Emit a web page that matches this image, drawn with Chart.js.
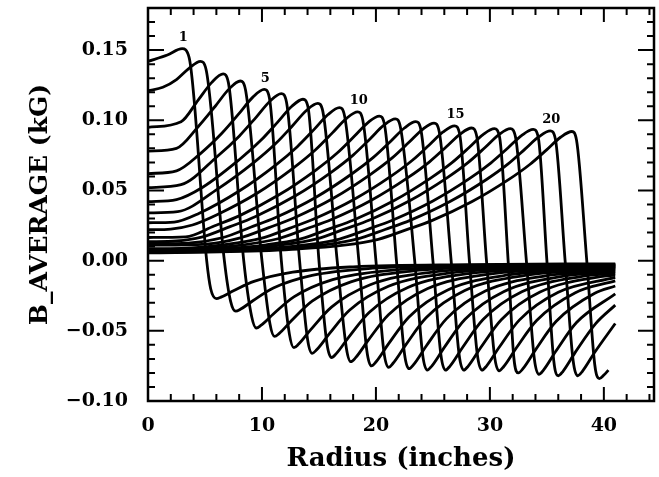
<!DOCTYPE html>
<html>
<head>
<meta charset="utf-8">
<script src="https://cdn.jsdelivr.net/npm/chart.js@4.4.1/dist/chart.umd.min.js"></script>
<style>
  html, body { margin: 0; padding: 0; background: #fff; }
  #wrap { width: 659px; height: 477px; }
</style>
</head>
<body>
<div id="wrap"><canvas id="chart" width="659" height="477"></canvas></div>
<script>
// B_AVERAGE (kG) against radius (inches), one curve per coil as [radius, B]
const curve01 = [[0, 0.142], [1.7, 0.1465], [3.0, 0.151], [3.6, 0.145], [5.15, 0], [5.5, -0.02], [6.0, -0.027], [6.4, -0.026], [7.5, -0.0215], [9.3, -0.0148], [12.7, -0.0082], [18, -0.0044], [28, -0.0028], [41, -0.0023]];
const curve02 = [[0, 0.121], [1.3, 0.1235], [2.5, 0.129], [3.6, 0.137], [4.6, 0.142], [5.1, 0.136], [6.7, 0], [7.25, -0.029], [7.7, -0.036], [8.1, -0.0347], [9.2, -0.0286], [11.0, -0.0195], [14.4, -0.0105], [19.7, -0.0054], [29.7, -0.0032], [41, -0.0026]];
const curve03 = [[0, 0.095], [2.9, 0.099], [4.4, 0.1144], [5.6, 0.127], [6.6, 0.133], [7.05, 0.127], [8.4, 0], [9.1, -0.040], [9.5, -0.048], [9.9, -0.0462], [11.0, -0.038], [12.8, -0.0258], [16.2, -0.0135], [21.5, -0.0067], [31.5, -0.0037], [41, -0.003]];
const curve04 = [[0, 0.078], [2.5, 0.080], [4.4, 0.0954], [5.9, 0.110], [7.1, 0.1222], [8.1, 0.128], [8.55, 0.122], [10.0, 0], [10.7, -0.045], [11.1, -0.054], [11.5, -0.052], [12.6, -0.0427], [14.4, -0.0289], [17.8, -0.0151], [23.1, -0.0074], [33.1, -0.0041], [41, -0.0033]];
const curve05 = [[0, 0.062], [2.5, 0.064], [4.6, 0.0763], [6.5, 0.0909], [8.0, 0.1049], [9.2, 0.1165], [10.2, 0.122], [10.65, 0.116], [11.7, 0], [12.4, -0.052], [12.8, -0.062], [13.2, -0.0596], [14.3, -0.049], [16.1, -0.0331], [19.5, -0.0172], [24.8, -0.0083], [34.8, -0.0045], [41, -0.0038]];
const curve06 = [[0, 0.052], [2.9, 0.0541], [6.1, 0.0744], [8.0, 0.0887], [9.5, 0.1023], [10.7, 0.1136], [11.7, 0.119], [12.15, 0.113], [13.3, 0], [14.0, -0.056], [14.4, -0.066], [14.8, -0.0635], [15.9, -0.0522], [17.7, -0.0352], [21.1, -0.0183], [26.4, -0.0089], [36.4, -0.0048], [41, -0.0042]];
const curve07 = [[0, 0.042], [2.5, 0.0435], [4.8, 0.0523], [8.0, 0.0719], [9.9, 0.0857], [11.4, 0.0989], [12.6, 0.1098], [13.6, 0.115], [14.05, 0.109], [15.0, 0], [15.7, -0.059], [16.1, -0.069], [16.5, -0.0664], [17.6, -0.0546], [19.4, -0.0369], [22.8, -0.0191], [28.1, -0.0093], [38.1, -0.005], [41, -0.0047]];
const curve08 = [[0, 0.034], [2.6, 0.0349], [6.1, 0.051], [9.3, 0.070], [11.2, 0.0834], [12.7, 0.0963], [13.9, 0.107], [14.9, 0.112], [15.35, 0.106], [16.6, 0], [17.4, -0.062], [17.8, -0.072], [18.2, -0.0693], [19.3, -0.057], [21.1, -0.0385], [24.5, -0.020], [29.8, -0.0098], [39.8, -0.0053], [41, -0.0051]];
const curve09 = [[0, 0.027], [2.3, 0.0275], [4.5, 0.0338], [8.0, 0.0496], [11.2, 0.0681], [13.1, 0.0812], [14.6, 0.0937], [15.8, 0.1041], [16.8, 0.109], [17.25, 0.103], [18.5, 0], [19.2, -0.064], [19.6, -0.075], [20.0, -0.0722], [21.1, -0.0593], [22.9, -0.0401], [26.3, -0.0209], [31.6, -0.0102], [41, -0.0057]];
const curve10 = [[0, 0.022], [2, 0.0225], [3.9, 0.0254], [6.1, 0.0329], [9.6, 0.0482], [12.8, 0.0663], [14.7, 0.079], [16.2, 0.0912], [17.4, 0.1012], [18.4, 0.106], [18.85, 0.100], [20.0, 0], [20.7, -0.065], [21.1, -0.076], [21.5, -0.0731], [22.6, -0.0602], [24.4, -0.0407], [27.8, -0.0213], [33.1, -0.0105], [41, -0.0064]];
const curve11 = [[0, 0.0165], [3.3, 0.017], [5.8, 0.0247], [8.0, 0.0319], [11.5, 0.0469], [14.7, 0.0644], [16.6, 0.0767], [18.1, 0.0886], [19.3, 0.0984], [20.3, 0.103], [20.75, 0.097], [21.8, 0], [22.5, -0.066], [22.9, -0.077], [23.3, -0.0741], [24.4, -0.061], [26.2, -0.0413], [29.6, -0.0217], [34.9, -0.0108], [41, -0.0073]];
const curve12 = [[0, 0.0135], [2.5, 0.014], [4.7, 0.0167], [7.2, 0.0242], [9.4, 0.0313], [12.9, 0.046], [16.1, 0.0631], [18.0, 0.0752], [19.5, 0.0869], [20.7, 0.0965], [21.7, 0.101], [22.15, 0.095], [23.4, 0], [24.1, -0.067], [24.5, -0.078], [24.9, -0.0751], [26.0, -0.0618], [27.8, -0.0419], [31.2, -0.0221], [36.5, -0.011], [41, -0.008]];
const curve13 = [[0, 0.012], [3.5, 0.0125], [6.5, 0.0163], [9.0, 0.0238], [11.2, 0.0307], [14.7, 0.045], [17.9, 0.0619], [19.8, 0.0738], [21.3, 0.0851], [22.5, 0.0945], [23.5, 0.099], [23.95, 0.093], [25.0, 0], [25.7, -0.067], [26.1, -0.078], [26.5, -0.0751], [27.6, -0.0619], [29.4, -0.042], [32.8, -0.0222], [38.1, -0.0112], [41, -0.009]];
const curve14 = [[0, 0.011], [5.1, 0.0118], [8.1, 0.0162], [10.6, 0.0235], [12.8, 0.0304], [16.3, 0.0446], [19.5, 0.0613], [21.4, 0.073], [22.9, 0.0843], [24.1, 0.0936], [25.1, 0.098], [25.55, 0.092], [26.6, 0], [27.3, -0.067], [27.7, -0.078], [28.1, -0.0751], [29.2, -0.0619], [31.0, -0.0421], [34.4, -0.0224], [39.7, -0.0114], [41, -0.0103]];
const curve15 = [[0, 0.0085], [2.9, 0.0087], [6.9, 0.0115], [9.9, 0.0158], [12.4, 0.023], [14.6, 0.0298], [18.1, 0.0437], [21.3, 0.060], [23.2, 0.0715], [24.7, 0.0826], [25.9, 0.0917], [26.9, 0.096], [27.35, 0.090], [28.2, 0], [28.9, -0.067], [29.3, -0.078], [29.7, -0.0751], [30.8, -0.0619], [32.6, -0.0422], [36.0, -0.0225], [41, -0.0119]];
const curve16 = [[0, 0.008], [4.4, 0.0085], [8.4, 0.0113], [11.4, 0.0156], [13.9, 0.0227], [16.1, 0.0293], [19.6, 0.043], [22.8, 0.0591], [24.7, 0.0704], [26.2, 0.0813], [27.4, 0.0902], [28.4, 0.0945], [28.85, 0.0885], [29.7, 0], [30.4, -0.0675], [30.8, -0.0785], [31.2, -0.0756], [32.3, -0.0624], [34.1, -0.0426], [37.5, -0.0228], [41, -0.0144]];
const curve17 = [[0, 0.0075], [6.4, 0.0085], [10.4, 0.0113], [13.4, 0.0155], [15.9, 0.0226], [18.1, 0.0291], [21.6, 0.0428], [24.8, 0.0588], [26.7, 0.070], [28.2, 0.0808], [29.4, 0.0898], [30.4, 0.094], [30.85, 0.088], [31.6, 0], [32.1, -0.069], [32.5, -0.080], [32.9, -0.077], [34.0, -0.0636], [35.8, -0.0434], [39.2, -0.0233], [41, -0.0181]];
const curve18 = [[0, 0.007], [7.8, 0.0085], [11.8, 0.0113], [14.8, 0.0155], [17.3, 0.0226], [19.5, 0.0291], [23.0, 0.0428], [26.2, 0.0588], [28.1, 0.070], [29.6, 0.0808], [30.8, 0.0898], [31.8, 0.094], [32.25, 0.088], [33.2, 0], [33.9, -0.070], [34.3, -0.081], [34.7, -0.078], [35.8, -0.0644], [37.6, -0.0441], [41, -0.0237]];
const curve19 = [[0, 0.0065], [9.8, 0.0084], [13.8, 0.0112], [16.8, 0.0154], [19.3, 0.0224], [21.5, 0.029], [25.0, 0.0425], [28.2, 0.0584], [30.1, 0.0697], [31.6, 0.0804], [32.8, 0.0893], [33.8, 0.0935], [34.25, 0.0875], [35.0, 0], [35.6, -0.071], [36.0, -0.082], [36.4, -0.079], [37.5, -0.0652], [39.3, -0.0447], [41, -0.0317]];
const curve20 = [[0, 0.006], [5.3, 0.0065], [11.3, 0.0083], [15.3, 0.0111], [18.3, 0.0153], [20.8, 0.0222], [23.0, 0.0287], [26.5, 0.0421], [29.7, 0.0578], [31.6, 0.0689], [33.1, 0.0796], [34.3, 0.0883], [35.3, 0.0925], [35.75, 0.0865], [36.6, 0], [37.3, -0.071], [37.7, -0.082], [38.1, -0.079], [39.2, -0.0653], [41, -0.0448]];
const curve21 = [[0, 0.0055], [7.2, 0.0064], [13.2, 0.0083], [17.2, 0.011], [20.2, 0.0152], [22.7, 0.0221], [24.9, 0.0285], [28.4, 0.0419], [31.6, 0.0575], [33.5, 0.0685], [35.0, 0.0791], [36.2, 0.0879], [37.2, 0.092], [37.6, 0.086], [38.5, 0], [39.2, -0.074], [39.6, -0.084], [40.0, -0.0815], [40.4, -0.078]];

const curves = [curve01, curve02, curve03, curve04, curve05, curve06, curve07, curve08, curve09, curve10,
  curve11, curve12, curve13, curve14, curve15, curve16, curve17, curve18, curve19, curve20, curve21];

// curve numbers printed over their peaks
const labelledCurves = [1, 5, 10, 15, 20];

const xTickValues = [0, 10, 20, 30, 40];
const yTickValues = [-0.10, -0.05, 0, 0.05, 0.10, 0.15];
const xMinorTicks = [0, 2, 4, 6, 8, 10, 12, 14, 16, 18, 20, 22, 24, 26, 28, 30, 32, 34, 36, 38, 40, 42, 44];
const yMinorTicks = [-0.10, -0.09, -0.08, -0.07, -0.06, -0.05, -0.04, -0.03, -0.02, -0.01, 0, 0.01, 0.02,
  0.03, 0.04, 0.05, 0.06, 0.07, 0.08, 0.09, 0.10, 0.11, 0.12, 0.13, 0.14, 0.15, 0.16, 0.17, 0.18];

const serif = "'DejaVu Serif', 'Liberation Serif', serif";

// box with inward ticks on all four sides, plus the curve numbers
const framePlugin = {
  id: 'frame',
  afterDatasetsDraw(chart) {
    const { ctx, chartArea, scales } = chart;
    const { left, right, top, bottom } = chartArea;
    ctx.save();
    ctx.strokeStyle = '#000';
    ctx.lineWidth = 2;
    ctx.beginPath();
    xMinorTicks.forEach((v) => {
      const px = scales.x.getPixelForValue(v);
      const len = xTickValues.includes(v) ? 14 : 7;
      ctx.moveTo(px, bottom);
      ctx.lineTo(px, bottom - len);
      ctx.moveTo(px, top);
      ctx.lineTo(px, top + len);
    });
    yMinorTicks.forEach((v) => {
      const py = scales.y.getPixelForValue(v);
      const major = yTickValues.some((t) => Math.abs(t - v) < 1e-9);
      const len = major ? 16 : 7;
      ctx.moveTo(left, py);
      ctx.lineTo(left + len, py);
      ctx.moveTo(right, py);
      ctx.lineTo(right - len, py);
    });
    ctx.stroke();
    ctx.lineWidth = 2.5;
    ctx.strokeRect(left, top, right - left, bottom - top);

    ctx.fillStyle = '#000';
    ctx.font = 'bold 13px ' + serif;
    ctx.textAlign = 'center';
    ctx.textBaseline = 'middle';
    labelledCurves.forEach((n) => {
      const peak = curves[n - 1].reduce((a, b) => (b[1] > a[1] ? b : a));
      ctx.fillText(String(n), scales.x.getPixelForValue(peak[0]) + 1, scales.y.getPixelForValue(peak[1]) - 11);
    });
    ctx.restore();
  },
};

new Chart(document.getElementById('chart'), {
  type: 'line',
  data: {
    datasets: curves.map((pts, i) => ({
      label: 'Curve ' + (i + 1),
      data: pts.map(([r, b]) => ({ x: r, y: b })),
      borderColor: '#000',
      borderWidth: 2.8,
      pointRadius: 0,
      pointHoverRadius: 0,
      cubicInterpolationMode: 'monotone',
      fill: false,
    })),
  },
  options: {
    responsive: false,
    animation: false,
    devicePixelRatio: 1,
    layout: { padding: { top: 8, right: 5, left: 0, bottom: 0 } },
    plugins: { legend: { display: false }, tooltip: { enabled: false } },
    scales: {
      x: {
        type: 'linear',
        min: 0,
        max: 44.4,
        afterBuildTicks: (scale) => { scale.ticks = xTickValues.map((v) => ({ value: v })); },
        afterFit: (scale) => {
          scale.height = 76;
          scale.paddingLeft = 0;
          scale.paddingRight = 0;
        },
        grid: { display: false, drawTicks: false },
        border: { display: false },
        ticks: {
          color: '#000',
          padding: 14,
          maxRotation: 0,
          autoSkip: false,
          font: { family: serif, size: 19, weight: 'bold' },
          callback: (v) => String(v),
        },
        title: {
          display: true,
          text: 'Radius (inches)',
          color: '#000',
          font: { family: serif, size: 26, weight: 'bold' },
          padding: { top: 0, bottom: 2 },
        },
      },
      y: {
        type: 'linear',
        min: -0.1,
        max: 0.18,
        afterBuildTicks: (scale) => { scale.ticks = yTickValues.map((v) => ({ value: v })); },
        afterFit: (scale) => {
          scale.width = 148;
          scale.paddingTop = 0;
          scale.paddingBottom = 0;
        },
        grid: { display: false, drawTicks: false },
        border: { display: false },
        ticks: {
          color: '#000',
          padding: 20,
          autoSkip: false,
          font: { family: serif, size: 19, weight: 'bold' },
          callback: (v) => (v < -1e-9 ? '\u2212' : '') + Math.abs(v).toFixed(2),
        },
        title: {
          display: true,
          text: 'B_AVERAGE (kG)',
          color: '#000',
          font: { family: serif, size: 25, weight: 'bold' },
          padding: { top: 25, bottom: 0 },
        },
      },
    },
  },
  plugins: [framePlugin],
});
</script>
</body>
</html>
